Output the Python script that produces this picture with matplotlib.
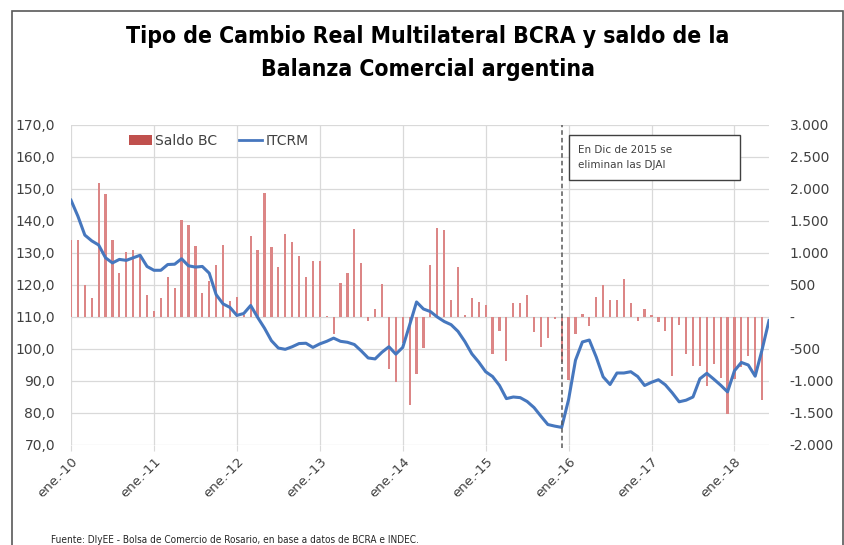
import matplotlib
matplotlib.use("Agg")
import matplotlib.pyplot as plt
from matplotlib.patches import Patch, Rectangle
from matplotlib.lines import Line2D
from matplotlib.ticker import FuncFormatter, FixedLocator
import numpy as np

# ---------------- data (monthly, ene-2010 .. jun-2018) ----------------
saldo_bc = [
    1200, 1200, 500, 290, 2100, 1920, 1200, 685, 1020, 1045, 955, 345,        # 2010
    90, 300, 630, 455, 1510, 1435, 1105, 370, 560, 820, 1130, 255,            # 2011
    310, 30, 1270, 1050, 1930, 1090, 785, 1300, 1170, 950, 628, 872,          # 2012
    872, 18, -260, 535, 693, 1370, 836, -57, 128, 510, -815, -1008,           # 2013
    -400, -1380, -885, -478, 815, 1393, 1360, 265, 774, 28, 291, 228,         # 2014
    187, -577, -218, -680, 213, 213, 337, -229, -470, -327, -33, -705,        # 2015
    -986, -259, 42, -140, 312, 494, 260, 271, 587, 224, -62, 130,             # 2016
    26, -78, -220, -920, -119, -581, -768, -768, -1080, -742, -960, -1521,    # 2017
    -975, -779, -612, -935, -1298,                                           # 2018
]
itcrm = [
    146.5, 141.5, 135.6, 133.8, 132.5, 128.5, 126.9, 128.0, 127.7, 128.5, 129.3, 125.8,
    124.6, 124.6, 126.4, 126.5, 128.2, 126.0, 125.6, 125.8, 123.7, 117.0, 114.1, 113.0,
    110.5, 111.1, 113.6, 109.9, 106.5, 102.6, 100.3, 99.9, 100.7, 101.7, 101.8, 100.5,
    101.6, 102.4, 103.4, 102.4, 102.1, 101.4, 99.4, 97.2, 96.9, 99.0, 100.7, 98.4,
    100.5, 107.5, 114.7, 112.5, 111.7, 110.0, 108.6, 107.6, 105.5, 102.3, 98.5, 95.9,
    92.9, 91.4, 88.6, 84.5, 85.0, 84.8, 83.6, 81.7, 79.0, 76.4, 75.9, 75.5,
    84.2, 96.5, 102.2, 102.8, 97.5, 91.3, 88.9, 92.5, 92.5, 92.9, 91.4, 88.6,
    89.6, 90.4, 88.8, 86.3, 83.5, 84.0, 85.0, 90.7, 92.4, 90.6, 88.7, 86.6,
    93.2, 95.8, 95.0, 91.5, 99.8, 108.9,
]
year_labels = ["ene.-10", "ene.-11", "ene.-12", "ene.-13", "ene.-14",
               "ene.-15", "ene.-16", "ene.-17", "ene.-18"]
left_ticks = [70, 80, 90, 100, 110, 120, 130, 140, 150, 160, 170]
right_ticks = [-2000, -1500, -1000, -500, 0, 500, 1000, 1500, 2000, 2500, 3000]
djai_month = 71  # dic-2015

title = "Tipo de Cambio Real Multilateral BCRA y saldo de la\nBalanza Comercial argentina"
note = "En Dic de 2015 se\neliminan las DJAI"
source = "Fuente: DIyEE - Bolsa de Comercio de Rosario, en base a datos de BCRA e INDEC."

# ---------------- figure ----------------
W, H = 845, 545
fig = plt.figure(figsize=(W / 100, H / 100), dpi=100)
fig.patch.set_facecolor("white")

# outer frame
fig.patches.append(Rectangle((12 / W, -0.05), (843 - 12) / W, (H - 11) / H + 0.05,
                             transform=fig.transFigure, fill=False,
                             edgecolor="#595959", linewidth=1.2))

ax_l, ax_r, ax_t, ax_b = 71, 769, 125, 445
rect = [ax_l / W, (H - ax_b) / H, (ax_r - ax_l) / W, (ax_b - ax_t) / H]

axb = fig.add_axes(rect)     # bars, right scale
axl = axb.twinx()            # line, left scale

months_b = np.arange(len(saldo_bc))
months_l = np.arange(len(itcrm))

axb.bar(months_b, saldo_bc, width=0.32, color="#DC8686", zorder=2)
axb.set_ylim(right_ticks[0], right_ticks[-1])
axb.set_xlim(0, len(itcrm) - 1)

axl.plot(months_l, itcrm, color="#4677BE", linewidth=2.2, zorder=3,
         solid_joinstyle="round")
axl.set_ylim(left_ticks[0], left_ticks[-1])

# grid
axb.set_axisbelow(True)
axb.yaxis.set_major_locator(FixedLocator(right_ticks))
axb.xaxis.set_major_locator(FixedLocator(np.arange(len(year_labels)) * 12))
axb.grid(True, color="#D9D9D9", linewidth=0.9)
for sp in list(axb.spines.values()) + list(axl.spines.values()):
    sp.set_visible(False)

# right axis labels
def fmt_right(v, pos):
    if v == 0:
        return "-"
    return f"{v:,.0f}".replace(",", ".")
axb.yaxis.tick_right()
axb.yaxis.set_major_formatter(FuncFormatter(fmt_right))
axb.tick_params(axis="y", length=0, pad=15, labelsize=10, labelcolor="#404040")

# x labels
axb.set_xticklabels(year_labels)
axb.tick_params(axis="x", length=4, color="#D9D9D9", pad=3, labelsize=9.5,
                labelcolor="#404040")
for lab in axb.get_xticklabels():
    lab.set_rotation(45)
    lab.set_ha("right")
    lab.set_rotation_mode("anchor")

# left axis labels
axl.yaxis.tick_left()
axl.yaxis.set_major_locator(FixedLocator(left_ticks))
axl.yaxis.set_major_formatter(FuncFormatter(lambda v, p: f"{v:.1f}".replace(".", ",")))
axl.tick_params(axis="y", length=0, pad=11.5, labelsize=10, labelcolor="#404040")

# DJAI line and note
axl.axvline(djai_month, color="#595959", linestyle=(0, (3, 2)), linewidth=1.1,
            ymin=-0.01, ymax=1.0, clip_on=False, zorder=4)
bx0, bx1 = (569 - ax_l) / (ax_r - ax_l), (740 - ax_l) / (ax_r - ax_l)
by0, by1 = (ax_b - 180) / (ax_b - ax_t), (ax_b - 135) / (ax_b - ax_t)
axl.add_patch(Rectangle((bx0, by0), bx1 - bx0, by1 - by0, transform=axl.transAxes,
                        facecolor="white", edgecolor="#404040", linewidth=1.0, zorder=5))
axl.text((578 - ax_l) / (ax_r - ax_l), (by0 + by1) / 2, note, transform=axl.transAxes,
         ha="left", va="center", fontsize=7.5, color="#404040", linespacing=1.6, zorder=6)

# legend
handles = [Patch(facecolor="#C0504D", edgecolor="none"),
           Line2D([0], [0], color="#4677BE", linewidth=2.0)]
fig.legend(handles, ["Saldo BC", "ITCRM"], loc="center left",
           bbox_to_anchor=(129 / W, 1 - 141 / H), ncol=2, frameon=False,
           fontsize=10, handlelength=1.65, handleheight=0.8, handletextpad=0.25,
           columnspacing=1.55, borderpad=0, borderaxespad=0, labelcolor="#404040")

# title
fig.text(428 / W, 1 - 53 / H, title, ha="center", va="center", fontsize=16.5,
         fontweight="bold", family="DejaVu Sans", fontstretch="condensed",
         linespacing=1.55, color="black")

# source
fig.text(51 / W, 1 - 540 / H, source, ha="left", va="center", fontsize=7.2,
         family="DejaVu Sans", fontstretch="condensed", color="#262626")

fig.savefig("out.png", dpi=100, facecolor="white")
